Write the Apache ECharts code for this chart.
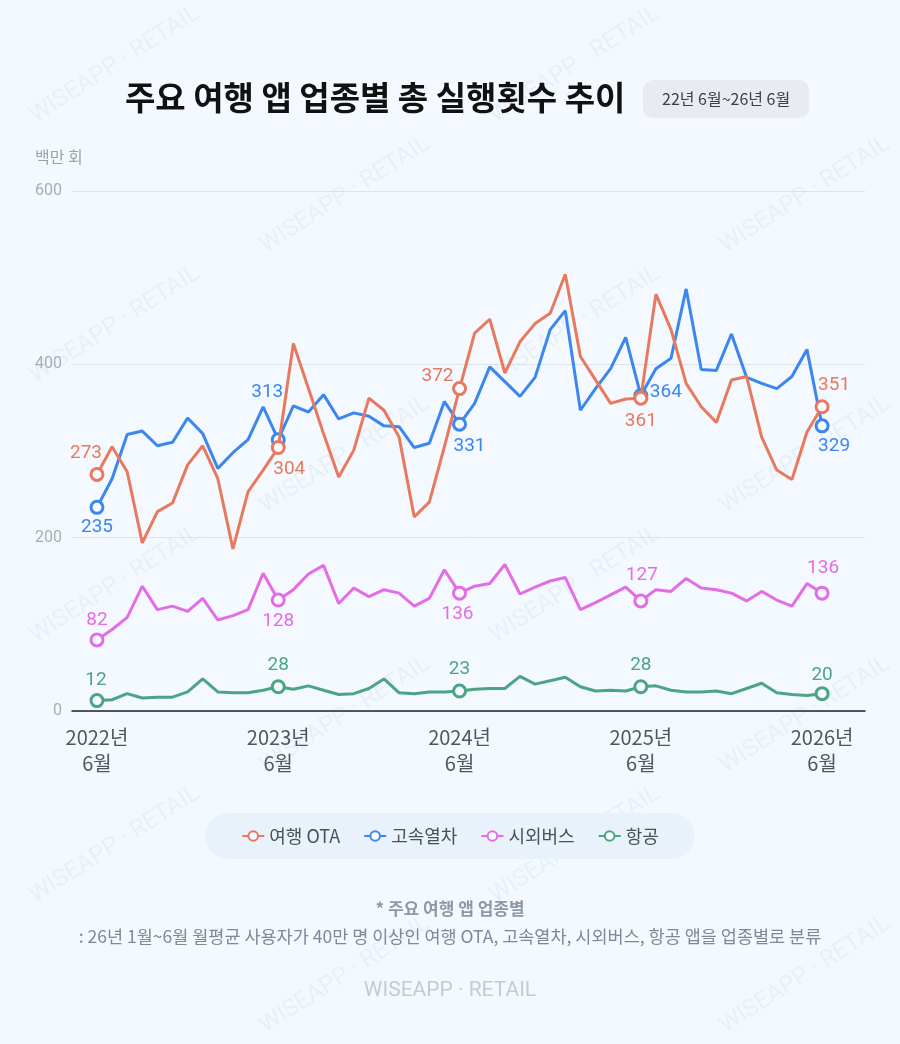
<!DOCTYPE html>
<html>
<head>
<meta charset="utf-8">
<title>주요 여행 앱 업종별 총 실행횟수 추이</title>
<script src="https://cdn.jsdelivr.net/npm/echarts@6/dist/echarts.min.js"></script>
<style>
  html, body { margin: 0; padding: 0; background: #f3f9fe; }
  #chart { width: 900px; height: 1044px; }
</style>
</head>
<body>
<div id="chart"></div>
<script>
// monthly points, 2022-06 .. 2026-06
const months = []
for (let y = 2022, m = 6; y < 2026 || m <= 6; m++) {
  if (m > 12) { m = 1; y++ }
  if (y === 2026 && m > 6) break
  months.push(y + '-' + String(m).padStart(2, '0'))
}

const tickLabels = ['2022년\n6월', '2023년\n6월', '2024년\n6월', '2025년\n6월', '2026년\n6월']
const tickIndex = [0, 12, 24, 36, 48]

const otaValues = [273, 305, 276, 194, 230, 240, 284, 306, 268, 187, 253, 278, 304, 424, 372, 320, 270, 301, 361, 347,
  316, 224, 241, 305, 372, 436, 452, 390, 426, 447, 459, 504, 409, 382, 355, 360, 361, 481, 440, 378,
  351, 333, 382, 386, 316, 278, 267, 322, 351]
const railValues = [235, 268, 319, 323, 306, 310, 338, 320, 280, 298, 313, 351, 313, 352, 345, 365, 337, 344, 340, 329,
  328, 304, 309, 357, 331, 355, 397, 380, 363, 385, 440, 462, 347, 372, 395, 431, 364, 395, 407, 487,
  394, 393, 435, 385, 378, 372, 386, 417, 329]
const busValues = [82, 94, 108, 144, 117, 121, 115, 130, 105, 110, 117, 159, 128, 140, 158, 168, 124, 142, 132, 140,
  136, 121, 130, 163, 136, 144, 147, 169, 135, 143, 150, 154, 117, 125, 134, 143, 127, 140, 138, 153,
  142, 140, 136, 127, 138, 128, 121, 147, 136]
const airValues = [12, 13, 20, 15, 16, 16, 22, 37, 22, 21, 21, 24, 28, 25, 29, 24, 19, 20, 26, 37,
  21, 20, 22, 22, 23, 25, 26, 26, 40, 31, 35, 39, 28, 23, 24, 23, 28, 29, 24, 22,
  22, 23, 20, 26, 32, 21, 19, 18, 20]

const seriesNames = ['여행 OTA', '고속열차', '시외버스', '항공']

// faint diagonal watermark tiled behind the chart
function watermark() {
  const c = document.createElement('canvas')
  c.width = 460; c.height = 260
  const ctx = c.getContext('2d')
  ctx.fillStyle = 'rgba(130,170,205,0.10)'
  ctx.font = '24px Roboto, sans-serif'
  ctx.textAlign = 'center'
  ctx.textBaseline = 'middle'
  const spots = [[115, 65], [345, 195]]
  spots.forEach(([x, y]) => {
    ctx.save()
    ctx.translate(x, y)
    ctx.rotate(-Math.PI / 5.5)
    ctx.fillText('WISEAPP · RETAIL', 0, 0)
    ctx.restore()
  })
  return c.toDataURL()
}
document.getElementById('chart').style.background = 'url(' + watermark() + ') repeat'

const FONT = '"Noto Sans CJK KR", Roboto, sans-serif'

function makeSeries(name, values, color, offsets, z) {
  return {
    name,
    type: 'line',
    z,
    symbol: 'circle',
    symbolSize: 12,
    lineStyle: { color, width: 3 },
    itemStyle: { color: '#f6fbff', borderColor: color, borderWidth: 3 },
    emphasis: { disabled: true },
    data: values.map((v, i) => {
      const k = tickIndex.indexOf(i)
      if (k < 0) return { value: [i, v], symbol: 'none' }
      return {
        value: [i, v],
        label: {
          show: true,
          position: 'inside',
          offset: offsets[k],
          formatter: String(v),
          color,
          fontSize: 19,
          fontFamily: 'Roboto, sans-serif'
        }
      }
    })
  }
}

const chart = echarts.init(document.getElementById('chart'), null, { renderer: 'canvas' })

chart.setOption({
  backgroundColor: 'transparent',
  textStyle: { fontFamily: FONT },
  title: [
    {
      text: '주요 여행 앱 업종별 총 실행횟수 추이',
      left: 125, top: 81, padding: 0,
      textStyle: { fontSize: 33, fontWeight: 'bold', color: '#111', fontFamily: FONT }
    },
    {
      text: '22년 6월~26년 6월',
      left: 643, top: 80,
      padding: [11, 19],
      backgroundColor: '#e8ecf0',
      borderRadius: 10,
      textStyle: { fontSize: 16, fontWeight: 'normal', color: '#3a4047', fontFamily: FONT }
    },
    {
      text: '백만 회',
      left: 35, top: 149, padding: 0,
      textStyle: { fontSize: 16, fontWeight: 'normal', color: '#9aa3ac', fontFamily: FONT }
    },
    {
      text: '* 주요 여행 앱 업종별',
      left: 'center', top: 900, padding: 0,
      textStyle: { fontSize: 17, fontWeight: 'bold', color: '#8c99a7', fontFamily: FONT }
    },
    {
      text: ': 26년 1월~6월 월평균 사용자가 40만 명 이상인 여행 OTA, 고속열차, 시외버스, 항공 앱을 업종별로 분류',
      left: 'center', top: 928, padding: 0,
      textStyle: { fontSize: 17.5, fontWeight: 'normal', color: '#7e8995', fontFamily: FONT }
    },
    {
      text: 'WISEAPP · RETAIL',
      left: 'center', top: 980, padding: 0,
      textStyle: { fontSize: 21, fontWeight: 'normal', color: '#c4cbd2', fontFamily: 'Roboto, sans-serif' }
    }
  ],
  legend: {
    data: seriesNames,
    left: 'center', top: 813,
    padding: [14, 36],
    backgroundColor: '#e9f2fa',
    borderRadius: 25,
    itemWidth: 22, itemHeight: 12,
    itemGap: 23,
    selectedMode: false,
    textStyle: { fontSize: 18, color: '#4a5058', fontFamily: FONT }
  },
  grid: { left: 72, right: 35, top: 191, bottom: 333 },
  xAxis: {
    type: 'value',
    min: -1.653, max: 50.84,
    splitLine: { show: false },
    axisTick: { show: false },
    axisLine: { show: true, onZero: false, lineStyle: { color: '#202428', width: 1.5 } },
    axisLabel: {
      customValues: tickIndex,
      formatter: v => tickLabels[tickIndex.indexOf(v)] || '',
      fontSize: 20, lineHeight: 26, color: '#4f565e', margin: 13,
      fontFamily: FONT
    }
  },
  yAxis: {
    type: 'value',
    min: 0, max: 600, interval: 200,
    axisLine: { show: false },
    axisTick: { show: false },
    splitLine: { lineStyle: { color: '#dde3e8', width: 1 } },
    axisLabel: { fontSize: 16, color: '#a6aeb6', margin: 10, fontFamily: 'Roboto, sans-serif' }
  },
  series: [
    makeSeries(seriesNames[0], otaValues, '#e8795f', [[-11, -21], [11, 22], [-22, -12], [0, 23], [12, -22]], 5),
    makeSeries(seriesNames[1], railValues, '#3c86ef', [[0, 20], [-11, -47], [10, 22], [25, -3], [12, 20]], 4),
    makeSeries(seriesNames[2], busValues, '#e46ce6', [[0, -20], [0, 21], [-2, 21], [1, -26], [1, -25]], 3),
    makeSeries(seriesNames[3], airValues, '#4ba585', [[-1, -20], [0, -21], [0, -22], [0, -21], [0, -18]], 2)
  ]
})

window.addEventListener('resize', () => chart.resize())
</script>
</body>
</html>
